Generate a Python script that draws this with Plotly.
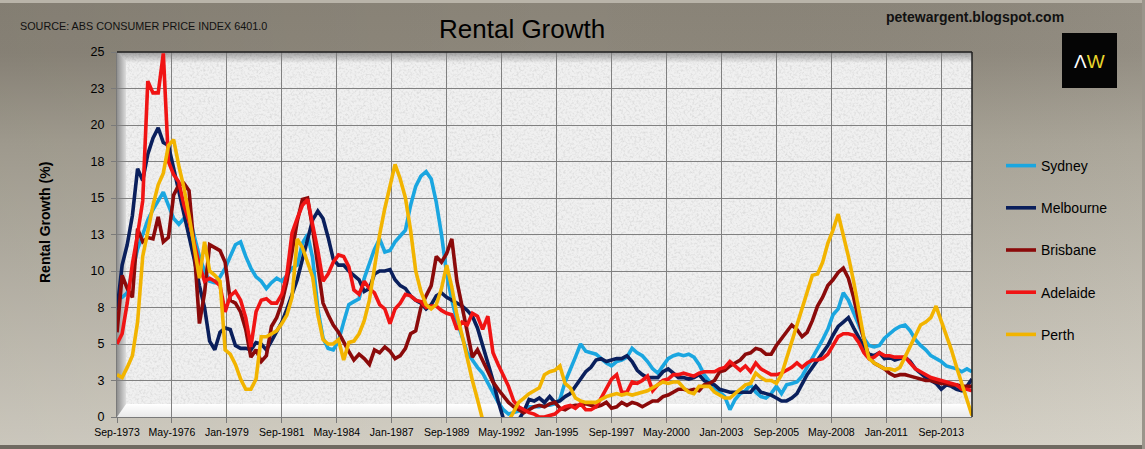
import base64
import plotly.graph_objects as go

# ---------------- data (quarterly, Sep-1973 .. Mar-2015) ----------------
START_YEAR, START_MONTH, N_QUARTERS = 1973, 9, 167

sydney = [8.3, 8.2, 8.5, 10.0, 11.5, 12.5, 13.5, 14.2, 14.8, 15.4,
          14.5, 13.6, 13.2, 13.6, 13.8, 12.5, 11.0, 10.0, 9.3, 9.2,
          9.6, 10.2, 11.0, 11.8, 12.0, 11.0, 10.2, 9.6, 9.3, 8.8,
          9.2, 9.5, 9.3, 9.7, 10.2, 10.4, 11.9, 12.5, 10.9, 7.4,
          5.4, 4.7, 4.6, 5.2, 6.5, 7.7, 7.9, 8.1, 9.5, 10.6,
          11.5, 12.2, 11.3, 11.4, 12.0, 12.4, 12.8, 14.5, 15.8, 16.5,
          16.8, 16.3, 14.7, 12.5, 9.8, 8.0, 6.6, 5.5, 4.4, 3.9,
          3.4, 3.0, 2.3, 1.6, 1.0, 0.5, 0.2, 0.3, 0.4, 0.5,
          0.7, 0.7, 0.7, 0.8, 0.8, 0.9, 1.2, 2.4, 3.2, 4.1,
          5.0, 4.5, 4.4, 4.3, 4.0, 3.7, 3.5, 3.8, 3.9, 4.1,
          4.7, 4.4, 4.2, 3.8, 3.3, 3.0, 3.5, 4.0, 4.2, 4.3,
          4.2, 4.3, 4.1, 3.6, 2.9, 2.4, 2.0, 1.7, 1.4, 0.5,
          1.2, 1.6, 1.8, 2.2, 1.7, 1.4, 1.3, 1.6, 2.1, 1.6,
          2.2, 2.3, 2.4, 2.8, 3.4, 4.0, 4.7, 5.3, 6.0, 7.0,
          7.4, 8.5, 8.0, 7.2, 6.3, 5.4, 4.9, 4.8, 4.9, 5.4,
          5.7, 6.0, 6.2, 6.3, 5.9, 5.3, 4.9, 4.6, 4.2, 4.0,
          3.8, 3.5, 3.4, 3.3, 3.1, 3.3, 3.1]

melbourne = [7.3, 10.4, 11.8, 13.8, 17.0, 16.2, 18.0, 19.1, 19.8, 18.8,
             18.6, 17.0, 15.4, 14.0, 12.5, 10.8, 9.0, 7.5, 5.2, 4.6,
             5.8, 6.1, 6.0, 4.9, 4.7, 4.7, 4.6, 5.1, 5.0, 4.6,
             5.2, 5.9, 6.5, 7.4, 8.4, 9.4, 10.8, 12.2, 13.5, 14.1,
             13.6, 12.3, 10.8, 10.4, 10.4, 10.0, 9.7, 9.4, 8.6, 8.8,
             9.8, 10.0, 10.0, 10.1, 9.4, 9.0, 8.8, 8.3, 8.0, 7.8,
             7.4, 7.7, 8.3, 8.5, 8.2, 8.0, 7.8, 7.6, 7.3, 6.9,
             6.1, 4.9, 3.8, 2.5, 1.1, -0.1, -0.6, -0.6, -0.2, 0.4,
             1.2, 1.1, 1.3, 1.0, 1.4, 1.0, 1.1, 1.4, 1.6, 2.1,
             2.5, 3.1, 3.4, 3.9, 4.0, 3.8, 3.9, 4.0, 4.0, 4.2,
             3.8, 3.2, 2.9, 2.7, 2.7, 2.7, 3.1, 3.3, 3.0, 2.7,
             2.7, 2.6, 2.7, 2.9, 2.5, 2.3, 2.2, 1.9, 1.8, 1.7,
             1.7, 1.7, 1.7, 1.7, 2.1, 1.7, 1.6, 1.5, 1.3, 1.1,
             1.1, 1.3, 1.6, 2.3, 2.9, 3.4, 3.9, 4.3, 4.9, 5.6,
             6.2, 6.5, 6.8, 6.1, 5.4, 4.8, 4.3, 4.2, 4.4, 4.0,
             4.1, 3.9, 4.0, 4.1, 3.8, 3.3, 3.0, 2.7, 2.5, 2.3,
             1.9, 2.2, 2.1, 1.9, 1.8, 2.1, 2.6]

brisbane = [5.8, 9.7, 8.8, 8.2, 12.9, 12.0, 12.3, 12.2, 13.7, 12.0,
            12.3, 15.2, 15.9, 16.0, 15.5, 11.5, 6.4, 8.5, 11.8, 11.6,
            11.4, 10.6, 8.0, 7.8, 7.2, 6.0, 4.1, 4.6, 3.8, 4.2,
            6.2, 6.8, 7.8, 9.3, 11.5, 13.4, 14.9, 15.0, 12.9, 10.2,
            7.8, 7.0, 6.3, 5.8, 5.1, 4.5, 3.9, 4.3, 4.0, 3.6,
            4.6, 4.4, 4.8, 4.5, 4.0, 4.2, 4.7, 5.7, 5.9, 7.5,
            8.3, 9.0, 11.0, 10.6, 11.2, 12.2, 9.3, 7.5, 5.8, 4.1,
            4.6, 3.9, 3.1, 2.4, 1.9, 1.4, 1.0, 0.7, 0.5, 0.3,
            0.5, 0.7, 0.8, 0.7, 0.9, 1.0, 0.6, 0.5, 0.7, 0.8,
            0.8, 0.9, 0.8, 0.7, 0.8, 1.0, 0.6, 0.7, 1.0, 0.8,
            1.0, 0.9, 0.7, 0.9, 1.1, 1.1, 1.4, 1.5, 1.7, 1.9,
            1.9, 1.8, 1.9, 1.8, 2.2, 2.3, 2.5, 3.1, 3.2, 3.5,
            3.7, 3.9, 4.3, 4.4, 4.7, 4.6, 4.3, 4.3, 4.9, 5.4,
            5.8, 6.3, 6.0, 5.5, 5.8, 6.6, 7.6, 8.2, 9.0, 9.4,
            9.9, 10.2, 9.5, 8.2, 6.6, 5.3, 4.1, 3.7, 3.5, 3.3,
            3.0, 2.8, 2.9, 2.9, 2.8, 2.7, 2.6, 2.5, 2.5, 2.4,
            2.3, 2.3, 2.2, 2.2, 2.1, 2.1, 2.1]

adelaide = [5.0, 5.7, 7.8, 10.5, 12.5, 14.8, 23.0, 22.2, 22.2, 24.9,
            17.5, 16.6, 16.1, 14.5, 13.4, 12.0, 10.4, 9.3, 9.5, 9.3,
            9.0, 7.2, 8.3, 8.6, 8.0, 6.8, 4.8, 7.2, 8.0, 8.1,
            7.8, 7.8, 8.4, 9.8, 12.6, 13.6, 14.5, 14.9, 13.3, 11.4,
            9.3, 9.8, 10.6, 11.1, 11.0, 10.3, 8.7, 8.4, 9.3, 8.8,
            8.5, 7.7, 7.4, 6.4, 7.4, 7.8, 8.4, 8.3, 8.0, 7.9,
            7.5, 7.6, 7.6, 7.3, 7.1, 7.0, 6.0, 6.5, 6.3, 7.1,
            6.9, 6.0, 6.9, 4.4, 3.6, 2.9, 2.1, 1.1, 0.7, 0.5,
            0.3, 0.2, 0.0, 0.0, 0.1, 0.2, 0.5, 0.7, 0.8, 0.6,
            0.9, 0.5, 0.5, 0.7, 1.3, 1.9, 2.6, 2.9, 1.7, 1.7,
            2.4, 2.3, 2.5, 2.8, 1.8, 2.2, 2.5, 2.6, 2.9, 2.9,
            3.0, 2.9, 2.8, 3.0, 3.1, 3.1, 3.1, 3.3, 3.4, 3.8,
            3.5, 3.2, 3.5, 3.1, 3.7, 3.3, 3.1, 2.9, 2.9, 3.0,
            3.2, 3.4, 3.7, 3.4, 3.7, 3.9, 3.9, 4.0, 4.3, 4.9,
            5.5, 5.7, 5.7, 5.6, 5.1, 4.4, 4.0, 4.1, 4.4, 4.2,
            4.2, 4.1, 4.1, 4.1, 3.7, 3.3, 3.1, 2.9, 2.7, 2.6,
            2.5, 2.4, 2.3, 2.2, 1.9, 1.9, 1.8]

perth = [2.9, 2.7, 3.4, 4.2, 6.5, 11.0, 12.7, 14.5, 15.9, 16.7,
         18.6, 19.0, 17.2, 15.7, 13.8, 11.5, 9.5, 12.0, 10.0, 9.7,
         9.3, 4.6, 4.3, 3.6, 2.6, 1.9, 1.9, 2.6, 5.5, 5.5,
         5.7, 5.9, 6.4, 7.0, 8.2, 12.2, 11.6, 10.5, 9.6, 7.0,
         5.3, 5.0, 5.0, 5.3, 3.9, 5.1, 5.2, 5.7, 6.6, 8.0,
         10.3, 12.5, 14.3, 15.8, 17.3, 16.3, 15.0, 12.8, 10.0, 8.6,
         7.7, 7.4, 7.7, 8.8, 10.4, 8.9, 7.0, 5.6, 3.9, 2.5,
         1.2, -0.2, -1.0, -1.5, -1.5, -1.0, -0.3, 0.3, 1.0, 1.3,
         1.6, 1.8, 2.0, 2.9, 3.1, 3.2, 3.5, 2.3, 2.0, 1.3,
         1.1, 1.0, 1.0, 1.0, 1.2, 1.4, 1.5, 1.6, 1.5, 1.6,
         1.5, 1.6, 1.7, 1.8, 2.0, 2.2, 2.4, 2.3, 2.4, 2.4,
         2.0, 1.7, 1.6, 2.1, 2.1, 2.1, 1.7, 1.5, 1.3, 1.3,
         1.6, 1.9, 2.2, 2.3, 3.0, 2.7, 2.5, 2.5, 2.3, 2.9,
         4.0, 5.1, 6.2, 7.3, 8.6, 9.7, 9.8, 10.6, 11.9, 12.8,
         13.9, 12.5, 11.0, 9.3, 7.4, 5.4, 4.0, 3.7, 3.5, 3.3,
         3.3, 3.2, 3.4, 4.1, 4.8, 5.6, 6.3, 6.5, 6.8, 7.6,
         6.6, 5.7, 4.6, 3.4, 2.3, 1.2, 0.1]

series_names = ["Sydney", "Melbourne", "Brisbane", "Adelaide", "Perth"]
series_values = [sydney, melbourne, brisbane, adelaide, perth]
series_colors = ["#1aa6e0", "#0a1f5c", "#8b0a0a", "#f01414", "#f2b400"]

x_tick_labels = ["Sep-1973", "May-1976", "Jan-1979", "Sep-1981", "May-1984",
                 "Jan-1987", "Sep-1989", "May-1992", "Jan-1995", "Sep-1997",
                 "May-2000", "Jan-2003", "Sep-2005", "May-2008", "Jan-2011",
                 "Sep-2013"]
TICK_STEP_MONTHS = 32
y_tick_vals = [0, 2.5, 5, 7.5, 10, 12.5, 15, 17.5, 20, 22.5, 25]
y_tick_labels = ["0", "3", "5", "8", "10", "13", "15", "18", "20", "23", "25"]


def month_date(offset):
    m = START_MONTH - 1 + offset
    return "%04d-%02d-01" % (START_YEAR + m // 12, m % 12 + 1)


dates = [month_date(3 * i) for i in range(N_QUARTERS)]
tick_dates = [month_date(TICK_STEP_MONTHS * i) for i in range(len(x_tick_labels))]

# ---------------- layout geometry ----------------
W, H = 1145, 449
L, R, T, B = 117, 972, 52, 417
PW, PH = R - L, B - T


def px(x):
    return (x - L) / PW


def py(y):
    return (B - y) / PH


FONT = "Liberation Sans, Arial, sans-serif"


def svg_uri(svg):
    return "data:image/svg+xml;base64," + base64.b64encode(svg.encode()).decode()


paper_svg = f"""<svg xmlns='http://www.w3.org/2000/svg' width='{W}' height='{H}' viewBox='0 0 {W} {H}' preserveAspectRatio='none'>
<defs>
<linearGradient id='g' x1='0' y1='0' x2='0' y2='1'>
<stop offset='0' stop-color='#8a8478'/>
<stop offset='0.12' stop-color='#8d877b'/>
<stop offset='0.32' stop-color='#a6a194'/>
<stop offset='1' stop-color='#d5d1c6'/>
</linearGradient>
<linearGradient id='h' x1='0' y1='0' x2='1' y2='0'>
<stop offset='0' stop-color='#000' stop-opacity='0.05'/>
<stop offset='0.5' stop-color='#000' stop-opacity='0'/>
<stop offset='1' stop-color='#fff' stop-opacity='0.06'/>
</linearGradient>
</defs>
<rect width='{W}' height='{H}' fill='url(#g)'/>
<rect width='{W}' height='{H}' fill='url(#h)'/>
<rect x='0' y='0' width='{W}' height='3' fill='#b9b4a9'/>
<rect x='0' y='{H-4}' width='{W}' height='4' fill='#6f6a61'/>
<rect x='{W-3}' y='0' width='3' height='{H}' fill='#9a958b'/>
</svg>"""

plot_svg = f"""<svg xmlns='http://www.w3.org/2000/svg' width='{PW}' height='{PH}' viewBox='0 0 {PW} {PH}' preserveAspectRatio='none'>
<defs>
<filter id='n' x='0' y='0' width='100%' height='100%'>
<feTurbulence type='fractalNoise' baseFrequency='0.45' numOctaves='3' seed='7'/>
<feColorMatrix type='matrix' values='0 0 0 0 0.55 0 0 0 0 0.55 0 0 0 0 0.55 2.2 0 0 0 -0.95'/>
</filter>
<linearGradient id='ts' x1='0' y1='0' x2='0' y2='1'>
<stop offset='0' stop-color='#000' stop-opacity='0.35'/>
<stop offset='1' stop-color='#000' stop-opacity='0'/>
</linearGradient>
<linearGradient id='lw' x1='0' y1='0' x2='1' y2='0'>
<stop offset='0' stop-color='#8f8f8f'/>
<stop offset='1' stop-color='#dcdcdc'/>
</linearGradient>
<linearGradient id='fl' x1='0' y1='0' x2='0' y2='1'>
<stop offset='0' stop-color='#ffffff'/>
<stop offset='1' stop-color='#e9e9e9'/>
</linearGradient>
</defs>
<rect width='{PW}' height='{PH}' fill='#f0f0f0'/>
<rect width='{PW}' height='{PH}' filter='url(#n)' opacity='0.5'/>
<polygon points='0,{PH} 9,{PH-13} {PW},{PH-13} {PW},{PH}' fill='url(#fl)'/>
<rect width='{PW}' height='11' fill='url(#ts)'/>
<polygon points='0,0 9,9 9,{PH-13} 0,{PH}' fill='url(#lw)'/>
</svg>"""

fig = go.Figure()
for name, vals, col in zip(series_names, series_values, series_colors):
    fig.add_trace(go.Scatter(x=dates, y=vals, name=name, mode="lines",
                             legendgroup=name,
                             line=dict(color=col, width=3.6)))

axis_common = dict(showgrid=True, gridcolor="#808080", gridwidth=1,
                   showline=True, linecolor="#7a7a7a", linewidth=1,
                   ticks="outside", ticklen=5, tickcolor="#7a7a7a",
                   zeroline=False, fixedrange=True, automargin=False)

fig.update_layout(
    width=W, height=H, autosize=False,
    margin=dict(l=L, r=W - R, t=T, b=H - B, pad=0),
    paper_bgcolor="#b0ab9f", plot_bgcolor="rgba(0,0,0,0)",
    showlegend=True,
    legend=dict(x=px(1001), y=py(150), xanchor="left", yanchor="top",
                bgcolor="rgba(0,0,0,0)", borderwidth=0,
                font=dict(family=FONT, size=14, color="#000"),
                tracegroupgap=21, itemwidth=30),
    xaxis=dict(type="date", range=[dates[0], dates[-1]],
               tickvals=tick_dates, ticktext=x_tick_labels, tickangle=0,
               tickfont=dict(family=FONT, size=10.5, color="#000"),
               **axis_common),
    yaxis=dict(range=[0, 25], tickvals=y_tick_vals, ticktext=y_tick_labels,
               tickfont=dict(family=FONT, size=12.5, color="#000"),
               ticklabelstandoff=4, **axis_common),
    images=[
        dict(source=svg_uri(paper_svg), xref="paper", yref="paper",
             x=px(0), y=py(0), sizex=W / PW, sizey=H / PH,
             xanchor="left", yanchor="top", sizing="stretch", layer="below"),
        dict(source=svg_uri(plot_svg), xref="paper", yref="paper",
             x=0, y=1, sizex=1, sizey=1,
             xanchor="left", yanchor="top", sizing="stretch", layer="below"),
    ],
    shapes=[
        dict(type="line", xref="paper", yref="paper", x0=0, x1=1, y0=1, y1=1,
             line=dict(color="#1e1e1e", width=1.5)),
        dict(type="line", xref="paper", yref="paper", x0=1, x1=1, y0=0, y1=1,
             line=dict(color="#1e1e1e", width=1.5)),
        dict(type="rect", xref="paper", yref="paper",
             x0=px(1062), x1=px(1117), y0=py(88), y1=py(33),
             fillcolor="#050505", line=dict(width=0)),
    ],
    annotations=[
        dict(text="SOURCE: ABS CONSUMER PRICE INDEX 6401.0", xref="paper", yref="paper",
             x=px(18), y=py(26), xanchor="left", yanchor="middle", showarrow=False,
             font=dict(family=FONT, size=10.8, color="#111")),
        dict(text="Rental Growth", xref="paper", yref="paper",
             x=px(522), y=py(29), xanchor="center", yanchor="middle", showarrow=False,
             font=dict(family=FONT, size=26, color="#000")),
        dict(text="<b>petewargent.blogspot.com</b>", xref="paper", yref="paper",
             x=px(975), y=py(17), xanchor="center", yanchor="middle", showarrow=False,
             font=dict(family=FONT, size=14, color="#111")),
        dict(text="<span style='color:#ffffff'>Λ</span><span style='color:#e9d62c'>W</span>",
             xref="paper", yref="paper", x=px(1089.5), y=py(61), xanchor="center",
             yanchor="middle", showarrow=False,
             font=dict(family=FONT, size=19, color="#ffffff")),
        dict(text="<b>Rental Growth (%)</b>", xref="paper", yref="paper",
             x=px(45), y=py(223), xanchor="center", yanchor="middle", showarrow=False,
             textangle=-90, font=dict(family=FONT, size=14, color="#000")),
    ],
)

fig.write_html(
    "out.html",
    config={"displayModeBar": False, "staticPlot": True},
    post_script="document.body.style.margin='0';document.body.style.padding='0';"
                "document.body.style.overflow='hidden';"
                "document.body.style.background='#b0ab9f';",
)
